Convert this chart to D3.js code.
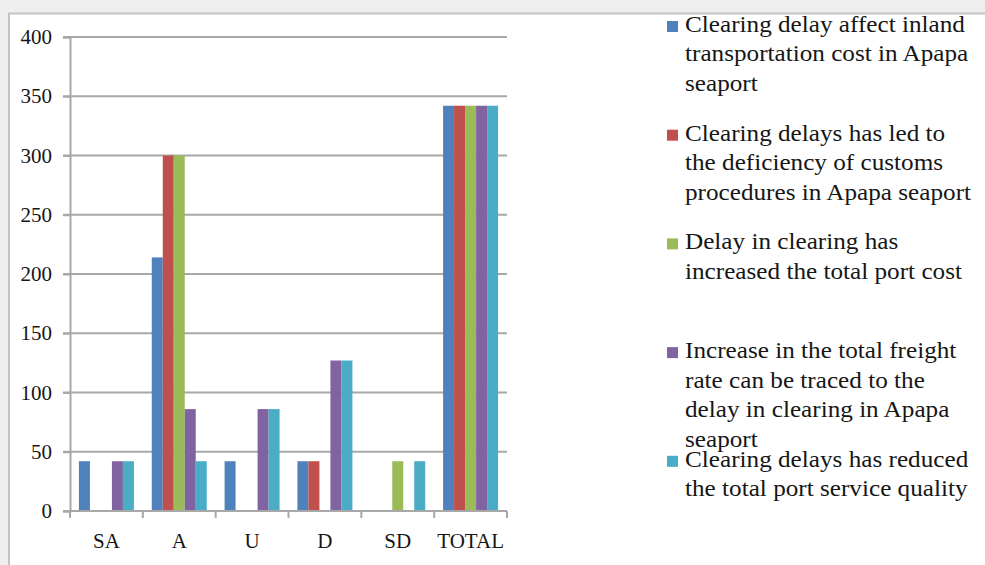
<!DOCTYPE html>
<html>
<head>
<meta charset="utf-8">
<script src="https://cdn.jsdelivr.net/npm/d3@7"></script>
<style>
  html, body { margin: 0; padding: 0; background: #efefef; }
  svg { display: block; }
</style>
</head>
<body>
<svg id="chart" width="985" height="565"></svg>
<script>
const categories = ["SA", "A", "U", "D", "SD", "TOTAL"];
const legendLines = [
  ["Clearing delay affect inland", "transportation cost in Apapa", "seaport"],
  ["Clearing delays has led to", "the deficiency of customs", "procedures in Apapa seaport"],
  ["Delay in clearing has", "increased the total port cost"],
  ["Increase in the total freight", "rate can be traced to the", "delay in clearing in Apapa", "seaport"],
  ["Clearing delays has reduced", "the total port service quality"]
];
const seriesInland     = [42, 214, 42, 42, 0, 342];
const seriesCustoms    = [0, 300, 0, 42, 0, 342];
const seriesPortCost   = [0, 300, 0, 0, 42, 342];
const seriesFreight    = [42, 86, 86, 127, 0, 342];
const seriesService    = [42, 42, 86, 127, 42, 342];
const yTicks = [0, 50, 100, 150, 200, 250, 300, 350, 400];
const colors = ["#4F81BD", "#C0504D", "#9BBB59", "#8064A2", "#4BACC6"];

const allSeries = [seriesInland, seriesCustoms, seriesPortCost, seriesFreight, seriesService];

const svg = d3.select("#chart");
const font = "'Liberation Serif', 'Times New Roman', serif";
const textColor = "#161616";
const lineColor = "#a8a8a8";

// panel
svg.append("rect").attr("x", 9).attr("y", 13.5).attr("width", 990).attr("height", 570)
  .attr("fill", "#ffffff").attr("stroke", "#c4c4c4").attr("stroke-width", 2);

const pLeft = 70, pRight = 507, pTop = 37, pBottom = 511;

const x0 = d3.scaleBand().domain(categories).range([pLeft, pRight])
  .paddingInner(0.245).paddingOuter(0.1225);
const x1 = d3.scaleBand().domain(d3.range(allSeries.length)).range([0, x0.bandwidth()]);
const y = d3.scaleLinear().domain([0, 400]).range([pBottom, pTop]);

// gridlines
svg.append("g").selectAll("line").data(yTicks.filter(d => d > 0)).join("line")
  .attr("x1", pLeft - 7).attr("x2", pRight)
  .attr("y1", d => y(d)).attr("y2", d => y(d))
  .attr("stroke", lineColor).attr("stroke-width", 2);

// bars
const g = svg.append("g");
categories.forEach((c, ci) => {
  allSeries.forEach((s, si) => {
    const v = s[ci];
    if (v <= 0) return;
    g.append("rect")
      .attr("x", x0(c) + x1(si))
      .attr("y", y(v))
      .attr("width", x1.bandwidth())
      .attr("height", y(0) - y(v))
      .attr("fill", colors[si]);
  });
});

// y axis
const yAxis = d3.axisLeft(y).tickValues(yTicks).tickSize(7).tickPadding(11);
const ya = svg.append("g").attr("transform", `translate(${pLeft},0)`).call(yAxis);
ya.select(".domain").attr("stroke", lineColor).attr("stroke-width", 2);
ya.selectAll(".tick line").attr("stroke", lineColor).attr("stroke-width", 2);
ya.selectAll(".tick text").attr("font-family", font).attr("font-size", 21).attr("fill", textColor);

// x axis
const xa = svg.append("g").attr("transform", `translate(0,${pBottom})`)
  .call(d3.axisBottom(x0).tickSize(0).tickPadding(30));
xa.select(".domain").attr("stroke", lineColor).attr("stroke-width", 2)
  .attr("d", `M${pLeft - 7},0H${pRight}`);
xa.selectAll(".tick text").attr("font-family", font).attr("font-size", 21).attr("fill", textColor)
  .attr("dy", "0.35em");
// category boundary ticks
const bounds = categories.map(c => x0(c) - x0.step() * x0.paddingInner() / 2).concat([pRight]);
svg.append("g").selectAll("line").data(bounds).join("line")
  .attr("x1", d => d).attr("x2", d => d).attr("y1", pBottom).attr("y2", pBottom + 7)
  .attr("stroke", lineColor).attr("stroke-width", 2);

// legend
const lg = svg.append("g");
legendLines.forEach((lines, i) => {
  const by = 32 + i * 108.7;
  lg.append("rect").attr("x", 667).attr("y", by - 11).attr("width", 11).attr("height", 11)
    .attr("fill", colors[i]);
  const t = lg.append("text").attr("font-family", font).attr("font-size", 22.5).attr("fill", textColor)
    .attr("transform", `translate(685,${by}) scale(1.12,1)`);
  lines.forEach((ln, li) => {
    t.append("tspan").attr("x", 0).attr("y", li * 29.5).text(ln);
  });
});
</script>
</body>
</html>
